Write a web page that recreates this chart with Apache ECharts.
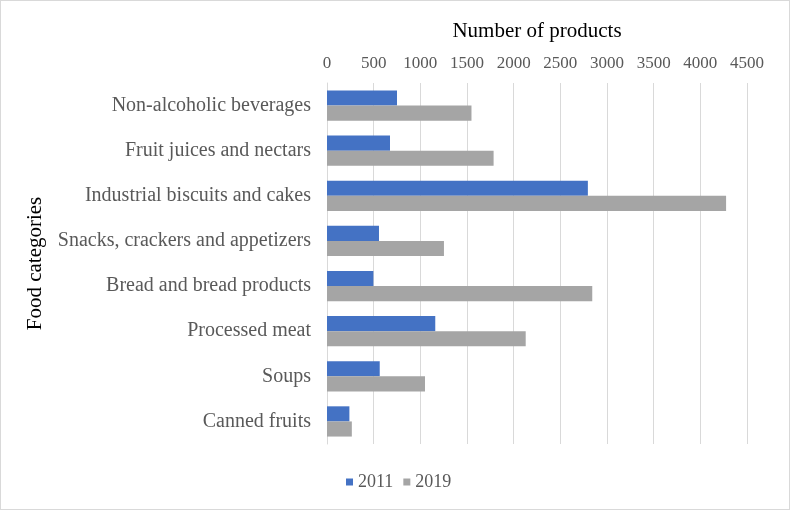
<!DOCTYPE html>
<html><head><meta charset="utf-8">
<script src="https://cdn.jsdelivr.net/npm/echarts@6/dist/echarts.min.js"></script>
<style>html,body{margin:0;padding:0;background:#fff}#c{width:790px;height:510px;box-sizing:border-box;border:1px solid #d9d9d9}</style>
</head><body><div id="c"></div>
<script>
const categories = ["Non-alcoholic beverages","Fruit juices and nectars","Industrial biscuits and cakes","Snacks, crackers and appetizers","Bread and bread products","Processed meat","Soups","Canned fruits"];
const values2011 = [750, 675, 2795, 557, 497, 1160, 565, 240];
const values2019 = [1548, 1785, 4276, 1253, 2842, 2129, 1050, 266];
const xTicks = {min: 0, max: 4500, interval: 500};

const font = '"Liberation Serif","Times New Roman",serif';
const chart = echarts.init(document.getElementById('c'), null, {renderer: 'canvas'});
chart.setOption({
  animation: false,
  textStyle: {fontFamily: font},
  grid: {left: 326, right: 42, top: 82, bottom: 65, containLabel: false},
  legend: {
    data: ['2011', '2019'], bottom: 13, left: 340,
    itemWidth: 7, itemHeight: 7, itemGap: 10,
    icon: 'rect',
    textStyle: {fontFamily: font, fontSize: 18, color: '#595959', padding: [0,0,0,0]}
  },
  xAxis: {
    type: 'value', position: 'top', min: xTicks.min, max: xTicks.max, interval: xTicks.interval,
    name: 'Number of products', nameLocation: 'middle', nameGap: 41,
    nameTextStyle: {fontFamily: font, fontSize: 21, color: '#000'},
    axisLine: {show: false}, axisTick: {show: false},
    axisLabel: {fontFamily: font, fontSize: 17, color: '#595959', margin: 11,
      formatter: v => String(v)},
    splitLine: {lineStyle: {color: '#d9d9d9', width: 1}}
  },
  yAxis: {
    type: 'category', data: categories, inverse: true,
    name: 'Food categories', nameLocation: 'middle', nameGap: 281, nameRotate: 90,
    nameTextStyle: {fontFamily: font, fontSize: 21, color: '#000'},
    axisLine: {show: true, lineStyle: {color: '#d9d9d9'}}, axisTick: {show: false},
    axisLabel: {fontFamily: font, fontSize: 20, color: '#595959', margin: 16}
  },
  series: [
    {name: '2011', type: 'bar', data: values2011, barGap: '0%', barCategoryGap: '33%',
     itemStyle: {color: '#4472c4'}},
    {name: '2019', type: 'bar', data: values2019, barGap: '0%', barCategoryGap: '33%',
     itemStyle: {color: '#a5a5a5'}}
  ]
});
</script></body></html>
